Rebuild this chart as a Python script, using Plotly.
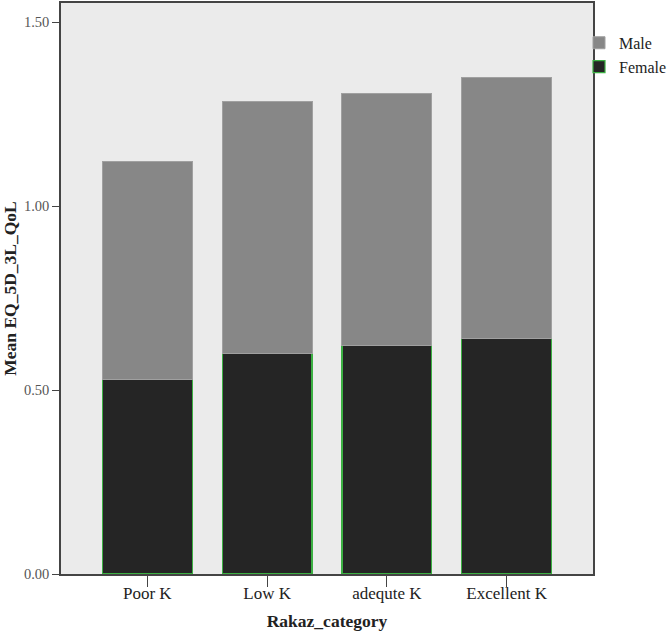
import plotly.graph_objects as go

categories = ["Poor K", "Low K", "adequte K", "Excellent K"]
female = [0.53, 0.60, 0.62, 0.64]
male = [0.59, 0.685, 0.685, 0.71]
y_ticks = [0.0, 0.5, 1.0, 1.5]
y_tick_labels = ["0.00", "0.50", "1.00", "1.50"]

fig = go.Figure()
fig.add_trace(go.Bar(
    x=categories, y=female, name="Female",
    marker=dict(color="#252525", line=dict(color="#3cb043", width=1.2)),
    width=0.75,
))
fig.add_trace(go.Bar(
    x=categories, y=male, name="Male",
    marker=dict(color="#878787", line=dict(color="#a0a0a0", width=1)),
    width=0.75,
))

serif = "Liberation Serif, Times New Roman, serif"
fig.update_layout(
    width=669, height=635,
    barmode="stack",
    paper_bgcolor="white",
    plot_bgcolor="#ebebeb",
    margin=dict(l=61, r=76, t=3, b=61, autoexpand=False),
    font=dict(family=serif, color="#222"),
    showlegend=True,
    legend=dict(
        traceorder="reversed",
        x=0.9737, xanchor="left", y=0.96, yanchor="top",
        font=dict(family=serif, size=16, color="#222"),
        bgcolor="rgba(0,0,0,0)",
        itemwidth=30,
        tracegroupgap=0,
    ),
    xaxis=dict(
        range=[-0.72, 3.72],
        showgrid=False, automargin=False,
        showline=True, linecolor="#444", linewidth=1.5, mirror=True,
        ticks="outside", ticklen=11, tickcolor="#444", tickwidth=1.3,
        ticklabelstandoff=-8,
        tickfont=dict(family=serif, size=17, color="#222"),
        title=dict(text="<b>Rakaz_category</b>", font=dict(family=serif, size=17.5, color="#222"), standoff=13),
    ),
    yaxis=dict(
        range=[0, 1.552],
        tickvals=y_ticks, ticktext=y_tick_labels,
        showgrid=False, zeroline=False, automargin=False,
        showline=True, linecolor="#444", linewidth=1.5, mirror=True,
        ticks="outside", ticklen=7, tickcolor="#444", tickwidth=1.3,
        tickfont=dict(family=serif, size=14.5, color="#555"),
        title=dict(text="<b>Mean EQ_5D_3L_QoL</b>", font=dict(family=serif, size=17.5, color="#222"), standoff=4),
    ),
)

fig.write_html("out.html", config={"displayModeBar": False},
               post_script="document.body.style.margin='0';")
